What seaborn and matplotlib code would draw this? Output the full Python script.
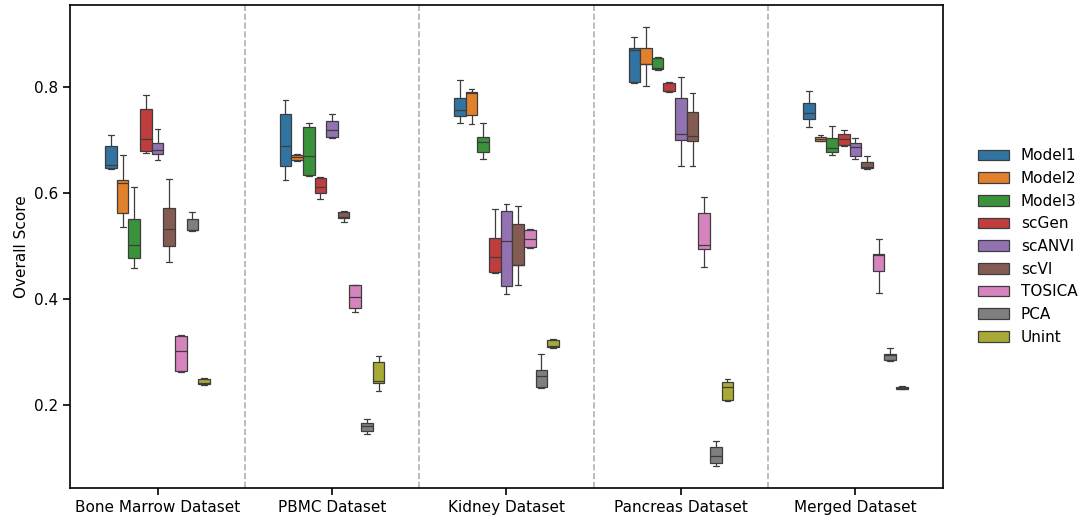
import numpy as np
import pandas as pd
import matplotlib
matplotlib.use("Agg")
import matplotlib.pyplot as plt
import seaborn as sns

datasets = ["Bone Marrow Dataset", "PBMC Dataset", "Kidney Dataset",
            "Pancreas Dataset", "Merged Dataset"]
methods = ["Model1", "Model2", "Model3", "scGen", "scANVI", "scVI",
           "TOSICA", "PCA", "Unint"]

# Five runs per method and dataset (one row per dataset, order as above)
model1 = [[0.645, 0.647, 0.653, 0.688, 0.710],
          [0.625, 0.650, 0.689, 0.749, 0.776],
          [0.732, 0.745, 0.757, 0.779, 0.814],
          [0.807, 0.809, 0.869, 0.874, 0.895],
          [0.725, 0.740, 0.750, 0.770, 0.793]]
model2 = [[0.536, 0.561, 0.618, 0.624, 0.672],
          [0.661, 0.662, 0.667, 0.672, 0.673],
          [0.730, 0.747, 0.789, 0.790, 0.797],
          [0.802, 0.843, 0.844, 0.874, 0.913],
          [0.697, 0.698, 0.702, 0.706, 0.709]]
model3 = [[0.457, 0.477, 0.502, 0.550, 0.611],
          [0.631, 0.633, 0.669, 0.725, 0.731],
          [0.664, 0.677, 0.696, 0.706, 0.731],
          [0.832, 0.833, 0.835, 0.855, 0.856],
          [0.672, 0.677, 0.684, 0.704, 0.727]]
scgen = [[0.676, 0.679, 0.702, 0.758, 0.785],
         [0.589, 0.599, 0.611, 0.628, 0.629],
         [0.449, 0.450, 0.479, 0.515, 0.569],
         [0.791, 0.792, 0.793, 0.808, 0.809],
         [0.689, 0.691, 0.701, 0.711, 0.719]]
scanvi = [[0.662, 0.673, 0.681, 0.695, 0.720],
          [0.703, 0.706, 0.718, 0.735, 0.748],
          [0.409, 0.424, 0.508, 0.565, 0.578],
          [0.650, 0.699, 0.711, 0.779, 0.818],
          [0.664, 0.669, 0.687, 0.694, 0.704]]
scvi = [[0.469, 0.500, 0.531, 0.572, 0.626],
        [0.545, 0.553, 0.555, 0.564, 0.565],
        [0.426, 0.463, 0.464, 0.541, 0.575],
        [0.650, 0.698, 0.708, 0.752, 0.788],
        [0.645, 0.646, 0.648, 0.658, 0.669]]
tosica = [[0.262, 0.264, 0.302, 0.330, 0.331],
          [0.375, 0.383, 0.404, 0.425, 0.426],
          [0.496, 0.497, 0.513, 0.530, 0.531],
          [0.459, 0.494, 0.502, 0.562, 0.592],
          [0.411, 0.452, 0.483, 0.484, 0.513]]
pca = [[0.528, 0.529, 0.530, 0.550, 0.563],
       [0.145, 0.150, 0.160, 0.165, 0.172],
       [0.232, 0.233, 0.253, 0.265, 0.295],
       [0.084, 0.089, 0.102, 0.119, 0.132],
       [0.283, 0.284, 0.293, 0.296, 0.306]]
unint = [[0.236, 0.238, 0.241, 0.248, 0.250],
         [0.225, 0.241, 0.245, 0.280, 0.292],
         [0.307, 0.308, 0.310, 0.322, 0.324],
         [0.206, 0.209, 0.233, 0.242, 0.248],
         [0.229, 0.230, 0.232, 0.234, 0.235]]

scores = dict(zip(methods, [model1, model2, model3, scgen, scanvi, scvi,
                            tosica, pca, unint]))

rows = []
for m, per_ds in scores.items():
    for ds, vals in zip(datasets, per_ds):
        for v in vals:
            rows.append({"Dataset": ds, "Method": m, "Score": v})
df = pd.DataFrame(rows)

sns.set_theme(style="ticks")
plt.rcParams["font.family"] = ["DejaVu Sans"]
plt.rcParams["text.color"] = "black"
plt.rcParams["axes.labelcolor"] = "black"
plt.rcParams["xtick.color"] = "black"
plt.rcParams["ytick.color"] = "black"

fig, ax = plt.subplots(figsize=(10.81, 5.19), dpi=100)
fig.subplots_adjust(left=0.065, right=0.872, top=0.990, bottom=0.060)

sns.boxplot(data=df, x="Dataset", y="Score", hue="Method",
            order=datasets, hue_order=methods, palette="tab10",
            width=0.6, linewidth=0.9, showfliers=False, whis=np.inf, ax=ax)

for b in np.arange(0.5, len(datasets) - 1, 1.0):
    ax.axvline(b, color="#b0b0b0", linestyle="--", linewidth=1.2)

ax.set_xlim(-0.5, len(datasets) - 0.5)
ax.set_xlabel("")
ax.set_ylabel("Overall Score", fontsize=11)
ax.set_yticks([0.2, 0.4, 0.6, 0.8])
ax.tick_params(labelsize=11, length=5, width=1.2, color="black",
               labelcolor="black")
for s in ax.spines.values():
    s.set_linewidth(1.2)
    s.set_color("black")

ax.legend(loc="center left", bbox_to_anchor=(1.025, 0.5), frameon=False,
          fontsize=11)

fig.savefig("out.png", dpi=100)
